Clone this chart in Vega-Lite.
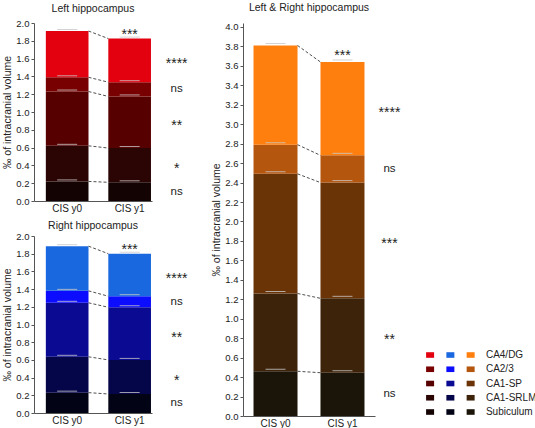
{
  "$schema": "https://vega.github.io/schema/vega-lite/v6.json",
  "padding": {"left": 2, "top": 3, "right": 0, "bottom": 0},
  "background": "white",
  "config": {
    "font": "Liberation Sans",
    "view": {"stroke": null},
    "axis": {"labelFont": "Liberation Sans", "labelFontSize": 9.5, "labelColor": "#222", "titleFont": "Liberation Sans", "titleFontSize": 10.5, "titleFontWeight": "normal", "titleColor": "#222", "domainColor": "#555", "tickColor": "#555", "grid": false, "tickSize": 3, "labelPadding": 2},
    "title": {"font": "Liberation Sans", "fontSize": 10.5, "fontWeight": "normal", "color": "#222"},
    "text": {"font": "Liberation Sans", "color": "#222"}
  },
  "data": {"values": [
    {"panel": "Left", "visit": "CIS y0", "region": "Subiculum", "value": 0.22, "sig": "ns"},
    {"panel": "Left", "visit": "CIS y0", "region": "CA1-SRLM", "value": 0.40, "sig": "*"},
    {"panel": "Left", "visit": "CIS y0", "region": "CA1-SP", "value": 0.61, "sig": "**"},
    {"panel": "Left", "visit": "CIS y0", "region": "CA2/3", "value": 0.16, "sig": "ns"},
    {"panel": "Left", "visit": "CIS y0", "region": "CA4/DG", "value": 0.52, "sig": "****"},
    {"panel": "Left", "visit": "CIS y1", "region": "Subiculum", "value": 0.21, "sig": "ns"},
    {"panel": "Left", "visit": "CIS y1", "region": "CA1-SRLM", "value": 0.385, "sig": "*"},
    {"panel": "Left", "visit": "CIS y1", "region": "CA1-SP", "value": 0.58, "sig": "**"},
    {"panel": "Left", "visit": "CIS y1", "region": "CA2/3", "value": 0.16, "sig": "ns"},
    {"panel": "Left", "visit": "CIS y1", "region": "CA4/DG", "value": 0.49, "sig": "****", "total_sig": "***"},
    {"panel": "Right", "visit": "CIS y0", "region": "Subiculum", "value": 0.23, "sig": "ns"},
    {"panel": "Right", "visit": "CIS y0", "region": "CA1-SRLM", "value": 0.405, "sig": "*"},
    {"panel": "Right", "visit": "CIS y0", "region": "CA1-SP", "value": 0.61, "sig": "**"},
    {"panel": "Right", "visit": "CIS y0", "region": "CA2/3", "value": 0.135, "sig": "ns"},
    {"panel": "Right", "visit": "CIS y0", "region": "CA4/DG", "value": 0.505, "sig": "****"},
    {"panel": "Right", "visit": "CIS y1", "region": "Subiculum", "value": 0.215, "sig": "ns"},
    {"panel": "Right", "visit": "CIS y1", "region": "CA1-SRLM", "value": 0.385, "sig": "*"},
    {"panel": "Right", "visit": "CIS y1", "region": "CA1-SP", "value": 0.595, "sig": "**"},
    {"panel": "Right", "visit": "CIS y1", "region": "CA2/3", "value": 0.125, "sig": "ns"},
    {"panel": "Right", "visit": "CIS y1", "region": "CA4/DG", "value": 0.48, "sig": "****", "total_sig": "***"},
    {"panel": "Both", "visit": "CIS y0", "region": "Subiculum", "value": 0.46, "sig": "ns"},
    {"panel": "Both", "visit": "CIS y0", "region": "CA1-SRLM", "value": 0.80, "sig": "**"},
    {"panel": "Both", "visit": "CIS y0", "region": "CA1-SP", "value": 1.23, "sig": "***"},
    {"panel": "Both", "visit": "CIS y0", "region": "CA2/3", "value": 0.30, "sig": "ns"},
    {"panel": "Both", "visit": "CIS y0", "region": "CA4/DG", "value": 1.02, "sig": "****"},
    {"panel": "Both", "visit": "CIS y1", "region": "Subiculum", "value": 0.445, "sig": "ns"},
    {"panel": "Both", "visit": "CIS y1", "region": "CA1-SRLM", "value": 0.765, "sig": "**"},
    {"panel": "Both", "visit": "CIS y1", "region": "CA1-SP", "value": 1.19, "sig": "***"},
    {"panel": "Both", "visit": "CIS y1", "region": "CA2/3", "value": 0.28, "sig": "ns"},
    {"panel": "Both", "visit": "CIS y1", "region": "CA4/DG", "value": 0.96, "sig": "****", "total_sig": "***"}
  ]},
  "transform": [
    {"calculate": "indexof(['Subiculum','CA1-SRLM','CA1-SP','CA2/3','CA4/DG'], datum.region)", "as": "k"},
    {"window": [{"op": "sum", "field": "value", "as": "cum"}], "sort": [{"field": "k", "order": "ascending"}], "groupby": ["panel", "visit"], "frame": [null, 0]}
  ],
  "resolve": {"scale": {"color": "independent"}},
  "spacing": 23,
  "hconcat": [
    {
      "resolve": {"scale": {"color": "independent"}},
      "spacing": 7,
      "vconcat": [
        {
          "title": {"text": "Left hippocampus", "offset": 3.5},
          "width": 118, "height": 178,
          "transform": [{"filter": "datum.panel === 'Left'"}],
          "layer": [
            {"mark": {"type": "bar"},
             "encoding": {
               "x": {"field": "visit", "type": "nominal", "scale": {"domain": ["CIS y0", "CIS y1"], "paddingInner": 0.317, "paddingOuter": 0.103, "align": 0.92}, "axis": {"title": null, "labelAngle": 0, "ticks": false, "labelFontSize": 10, "labelPadding": 2}},
               "y": {"field": "value", "type": "quantitative", "stack": "zero", "scale": {"domain": [0, 2]}, "axis": {"title": "‰ of intracranial volume", "tickCount": 10, "format": ".1f", "titlePadding": 3}},
               "color": {"field": "region", "type": "nominal", "scale": {"domain": ["CA4/DG", "CA2/3", "CA1-SP", "CA1-SRLM", "Subiculum"], "range": ["#e3000f", "#780000", "#560000", "#2b0404", "#130303"]}, "legend": null},
               "order": {"field": "k", "type": "quantitative"}
             }},
            {"mark": {"type": "tick", "size": 20, "thickness": 1, "color": "#c8c8c8", "opacity": 0.8, "yOffset": -1.5},
             "encoding": {"x": {"field": "visit", "type": "nominal"}, "y": {"field": "cum", "type": "quantitative"}}},
            {"transform": [{"pivot": "visit", "value": "cum", "groupby": ["region"]}],
             "mark": {"type": "rule", "strokeDash": [3, 2], "strokeWidth": 0.8, "color": "#222"},
             "encoding": {"x": {"datum": "CIS y0", "type": "nominal", "bandPosition": 1}, "x2": {"datum": "CIS y1", "bandPosition": 0}, "y": {"field": "CIS y0", "type": "quantitative"}, "y2": {"field": "CIS y1"}}},
            {"transform": [{"filter": "datum.visit === 'CIS y1' && datum.sig === 'ns'"}, {"calculate": "datum.cum - datum.value / 2", "as": "mid"}],
             "mark": {"type": "text", "dx": 47, "fontSize": 11.5, "baseline": "middle"},
             "encoding": {"x": {"datum": "CIS y1", "type": "nominal"}, "y": {"field": "mid", "type": "quantitative"}, "text": {"field": "sig"}}},
            {"transform": [{"filter": "datum.visit === 'CIS y1' && datum.sig !== 'ns'"}, {"calculate": "datum.cum - datum.value / 2", "as": "mid"}],
             "mark": {"type": "text", "dx": 47, "dy": 4, "fontSize": 14, "baseline": "middle"},
             "encoding": {"x": {"datum": "CIS y1", "type": "nominal"}, "y": {"field": "mid", "type": "quantitative"}, "text": {"field": "sig"}}},
            {"transform": [{"filter": "datum.total_sig"}],
             "mark": {"type": "text", "dy": 0, "fontSize": 14, "baseline": "alphabetic"},
             "encoding": {"x": {"datum": "CIS y1", "type": "nominal"}, "y": {"field": "cum", "type": "quantitative"}, "text": {"field": "total_sig"}}}
          ]
        },
        {
          "title": {"text": "Right hippocampus", "offset": 0},
          "width": 118, "height": 177,
          "transform": [{"filter": "datum.panel === 'Right'"}],
          "layer": [
            {"mark": {"type": "bar"},
             "encoding": {
               "x": {"field": "visit", "type": "nominal", "scale": {"domain": ["CIS y0", "CIS y1"], "paddingInner": 0.317, "paddingOuter": 0.103, "align": 0.92}, "axis": {"title": null, "labelAngle": 0, "ticks": false, "labelFontSize": 10, "labelPadding": 2}},
               "y": {"field": "value", "type": "quantitative", "stack": "zero", "scale": {"domain": [0, 2]}, "axis": {"title": "‰ of intracranial volume", "tickCount": 10, "format": ".1f", "titlePadding": 3}},
               "color": {"field": "region", "type": "nominal", "scale": {"domain": ["CA4/DG", "CA2/3", "CA1-SP", "CA1-SRLM", "Subiculum"], "range": ["#1a68e0", "#0c0cff", "#0a0a92", "#05054a", "#030316"]}, "legend": null},
               "order": {"field": "k", "type": "quantitative"}
             }},
            {"mark": {"type": "tick", "size": 20, "thickness": 1, "color": "#c8c8c8", "opacity": 0.8, "yOffset": -1.5},
             "encoding": {"x": {"field": "visit", "type": "nominal"}, "y": {"field": "cum", "type": "quantitative"}}},
            {"transform": [{"pivot": "visit", "value": "cum", "groupby": ["region"]}],
             "mark": {"type": "rule", "strokeDash": [3, 2], "strokeWidth": 0.8, "color": "#222"},
             "encoding": {"x": {"datum": "CIS y0", "type": "nominal", "bandPosition": 1}, "x2": {"datum": "CIS y1", "bandPosition": 0}, "y": {"field": "CIS y0", "type": "quantitative"}, "y2": {"field": "CIS y1"}}},
            {"transform": [{"filter": "datum.visit === 'CIS y1' && datum.sig === 'ns'"}, {"calculate": "datum.cum - datum.value / 2", "as": "mid"}],
             "mark": {"type": "text", "dx": 47, "fontSize": 11.5, "baseline": "middle"},
             "encoding": {"x": {"datum": "CIS y1", "type": "nominal"}, "y": {"field": "mid", "type": "quantitative"}, "text": {"field": "sig"}}},
            {"transform": [{"filter": "datum.visit === 'CIS y1' && datum.sig !== 'ns'"}, {"calculate": "datum.cum - datum.value / 2", "as": "mid"}],
             "mark": {"type": "text", "dx": 47, "dy": 4, "fontSize": 14, "baseline": "middle"},
             "encoding": {"x": {"datum": "CIS y1", "type": "nominal"}, "y": {"field": "mid", "type": "quantitative"}, "text": {"field": "sig"}}},
            {"transform": [{"filter": "datum.total_sig"}],
             "mark": {"type": "text", "dy": 0, "fontSize": 14, "baseline": "alphabetic"},
             "encoding": {"x": {"datum": "CIS y1", "type": "nominal"}, "y": {"field": "cum", "type": "quantitative"}, "text": {"field": "total_sig"}}}
          ]
        }
      ]
    },
    {
      "resolve": {"scale": {"color": "independent"}},
      "spacing": 22,
      "hconcat": [
        {
          "title": {"text": "Left & Right hippocampus", "offset": 8},
          "width": 132, "height": 393,
          "transform": [{"filter": "datum.panel === 'Both'"}],
          "layer": [
            {"mark": {"type": "bar"},
             "encoding": {
               "x": {"field": "visit", "type": "nominal", "scale": {"domain": ["CIS y0", "CIS y1"], "paddingInner": 0.343, "paddingOuter": 0.157}, "axis": {"title": null, "labelAngle": 0, "ticks": false, "labelFontSize": 10, "labelPadding": 2}},
               "y": {"field": "value", "type": "quantitative", "stack": "zero", "scale": {"domain": [0, 4.041], "nice": false}, "axis": {"title": "‰ of intracranial volume", "tickCount": 20, "format": ".1f", "titlePadding": 3}},
               "color": {"field": "region", "type": "nominal", "scale": {"domain": ["CA4/DG", "CA2/3", "CA1-SP", "CA1-SRLM", "Subiculum"], "range": ["#ff7f0e", "#b5560f", "#6a3407", "#3d230a", "#1b1408"]}, "legend": null},
               "order": {"field": "k", "type": "quantitative"}
             }},
            {"mark": {"type": "tick", "size": 20, "thickness": 1, "color": "#c8c8c8", "opacity": 0.8, "yOffset": -2},
             "encoding": {"x": {"field": "visit", "type": "nominal"}, "y": {"field": "cum", "type": "quantitative"}}},
            {"transform": [{"pivot": "visit", "value": "cum", "groupby": ["region"]}],
             "mark": {"type": "rule", "strokeDash": [3, 2], "strokeWidth": 0.8, "color": "#222"},
             "encoding": {"x": {"datum": "CIS y0", "type": "nominal", "bandPosition": 1}, "x2": {"datum": "CIS y1", "bandPosition": 0}, "y": {"field": "CIS y0", "type": "quantitative"}, "y2": {"field": "CIS y1"}}},
            {"transform": [{"filter": "datum.visit === 'CIS y1' && datum.sig === 'ns'"}, {"calculate": "datum.cum - datum.value / 2", "as": "mid"}],
             "mark": {"type": "text", "dx": 47, "fontSize": 11.5, "baseline": "middle"},
             "encoding": {"x": {"datum": "CIS y1", "type": "nominal"}, "y": {"field": "mid", "type": "quantitative"}, "text": {"field": "sig"}}},
            {"transform": [{"filter": "datum.visit === 'CIS y1' && datum.sig !== 'ns'"}, {"calculate": "datum.cum - datum.value / 2", "as": "mid"}],
             "mark": {"type": "text", "dx": 47, "dy": 4, "fontSize": 14, "baseline": "middle"},
             "encoding": {"x": {"datum": "CIS y1", "type": "nominal"}, "y": {"field": "mid", "type": "quantitative"}, "text": {"field": "sig"}}},
            {"transform": [{"filter": "datum.total_sig"}],
             "mark": {"type": "text", "dy": -2, "fontSize": 14, "baseline": "alphabetic"},
             "encoding": {"x": {"datum": "CIS y1", "type": "nominal"}, "y": {"field": "cum", "type": "quantitative"}, "text": {"field": "total_sig"}}}
          ]
        },
        {
          "width": 75, "height": 393,
          "transform": [{"filter": "datum.visit === 'CIS y0'"}],
          "resolve": {"scale": {"color": "independent"}},
          "encoding": {
            "y": {"field": "k", "type": "quantitative", "scale": {"domain": [-0.28, 27.3], "nice": false, "zero": false}, "axis": null}
          },
          "layer": [
            {"transform": [{"filter": "datum.panel === 'Left'"}],
             "mark": {"type": "point", "shape": "M-1,-0.7L1,-0.7L1,0.7L-1,0.7Z", "size": 64, "filled": true, "opacity": 1},
             "encoding": {
               "x": {"datum": "Left", "type": "nominal", "scale": {"domain": ["Left", "Right", "Both", "label"], "type": "point", "padding": 0.35}, "axis": null},
               "color": {"field": "region", "type": "nominal", "scale": {"domain": ["CA4/DG", "CA2/3", "CA1-SP", "CA1-SRLM", "Subiculum"], "range": ["#e3000f", "#780000", "#560000", "#2b0404", "#130303"]}, "legend": null}
             }},
            {"transform": [{"filter": "datum.panel === 'Right'"}],
             "mark": {"type": "point", "shape": "M-1,-0.7L1,-0.7L1,0.7L-1,0.7Z", "size": 64, "filled": true, "opacity": 1},
             "encoding": {
               "x": {"datum": "Right", "type": "nominal"},
               "color": {"field": "region", "type": "nominal", "scale": {"domain": ["CA4/DG", "CA2/3", "CA1-SP", "CA1-SRLM", "Subiculum"], "range": ["#1a68e0", "#0c0cff", "#0a0a92", "#05054a", "#030316"]}, "legend": null}
             }},
            {"transform": [{"filter": "datum.panel === 'Both'"}],
             "mark": {"type": "point", "shape": "M-1,-0.7L1,-0.7L1,0.7L-1,0.7Z", "size": 64, "filled": true, "opacity": 1},
             "encoding": {
               "x": {"datum": "Both", "type": "nominal"},
               "color": {"field": "region", "type": "nominal", "scale": {"domain": ["CA4/DG", "CA2/3", "CA1-SP", "CA1-SRLM", "Subiculum"], "range": ["#ff7f0e", "#b5560f", "#6a3407", "#3d230a", "#1b1408"]}, "legend": null}
             }},
            {"transform": [{"filter": "datum.panel === 'Both'"}],
             "mark": {"type": "text", "align": "left", "baseline": "middle", "dx": -5, "fontSize": 10},
             "encoding": {
               "x": {"datum": "label", "type": "nominal"},
               "text": {"field": "region"}
             }}
          ]
        }
      ]
    }
  ]
}
